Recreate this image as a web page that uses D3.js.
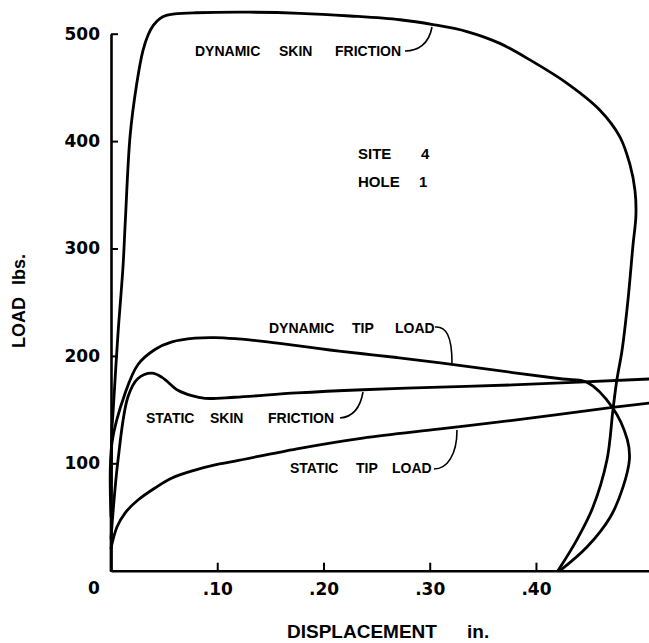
<!DOCTYPE html>
<html>
<head>
<meta charset="utf-8">
<script src="https://cdn.jsdelivr.net/npm/d3@7"></script>
<style>
  html, body { margin: 0; padding: 0; background: #fff; }
  svg { display: block; }
  text { fill: #000; }
</style>
</head>
<body>
<script>
// ---- data (x = displacement in., y = load lbs.) ----
const dynamicSkinFriction = [
  [0, 0], [0.0009, 131], [0.0019, 147], [0.0066, 221], [0.0113, 283], [0.0135, 326],
  [0.0180, 405], [0.0240, 452], [0.0300, 484], [0.0350, 499], [0.0400, 508], [0.0460, 514],
  [0.0520, 517], [0.0600, 518.5], [0.0800, 519.5], [0.1300, 520], [0.1780, 519], [0.2250, 516.5],
  [0.2720, 513], [0.3030, 508.5], [0.3350, 502], [0.3660, 491], [0.3970, 474], [0.4290, 454],
  [0.4600, 429], [0.4790, 404], [0.4885, 378], [0.4932, 354], [0.4941, 331], [0.4913, 303],
  [0.4866, 252], [0.4810, 205], [0.4762, 178], [0.4725, 150], [0.4668, 103], [0.4536, 59],
  [0.4386, 29], [0.4207, 0]
];
const dynamicTipLoad = [
  [0, 50], [0.0009, 119], [0.0132, 165], [0.0254, 192], [0.0414, 206], [0.0574, 213],
  [0.079, 216.5], [0.0979, 217], [0.1167, 216], [0.143, 213.5], [0.175, 209.5], [0.206, 205.5],
  [0.237, 202], [0.269, 198.5], [0.310, 193.5], [0.378, 184.5], [0.425, 178.5], [0.448, 175.5],
  [0.472, 152], [0.486, 122], [0.488, 104], [0.482, 78], [0.470, 50], [0.448, 22], [0.4226, 0]
];
const staticSkinFriction = [
  [0, 30], [0.0066, 103], [0.016, 162], [0.0254, 179], [0.0386, 184], [0.048, 180],
  [0.063, 168], [0.076, 163], [0.0885, 160.5], [0.1167, 161.5], [0.175, 165.5],
  [0.237, 168.5], [0.310, 171], [0.378, 173], [0.5064, 178.5]
];
const staticTipLoad = [
  [0, 21], [0.0056, 40.7], [0.0132, 53.7], [0.0254, 65.8], [0.0414, 77], [0.0574, 86.3],
  [0.079, 93.7], [0.0979, 98.6], [0.1167, 102], [0.175, 113.5], [0.237, 123.5],
  [0.310, 132], [0.378, 140], [0.472, 152], [0.5064, 156]
];
const xTickValues = [0.1, 0.2, 0.3, 0.4];
const xTickLabels = [".10", ".20", ".30", ".40"];
const yTickValues = [100, 200, 300, 400, 500];
const yTickLabels = ["100", "200", "300", "400", "500"];
const xMax = 0.5064;

// ---- drawing ----
const W = 649, H = 643;
const svg = d3.select("body").append("svg").attr("width", W).attr("height", H);

const x = d3.scaleLinear().domain([0, xMax]).range([111, 649]);
const y = d3.scaleLinear().domain([0, 500]).range([570.7, 33.7]);

const tickFont = "'DejaVu Sans', sans-serif";
const labFont = "'Liberation Sans', Arial, sans-serif";

// x axis
const xAxis = d3.axisBottom(x)
  .tickValues(xTickValues)
  .tickFormat((d, i) => xTickLabels[i])
  .tickSizeInner(-8).tickSizeOuter(0).tickPadding(12);
const gx = svg.append("g").attr("transform", `translate(0,${y(0)})`).call(xAxis);
gx.select(".domain").attr("stroke", "#000").attr("stroke-width", 2.6);
gx.selectAll(".tick line").attr("stroke", "#000").attr("stroke-width", 2);
gx.selectAll(".tick text").attr("font-family", tickFont).attr("font-weight", "bold")
  .attr("font-size", 17).attr("fill", "#000").attr("dy", "0.71em");

// y axis
const yAxis = d3.axisLeft(y)
  .tickValues(yTickValues)
  .tickFormat((d, i) => yTickLabels[i])
  .tickSizeInner(-7).tickSizeOuter(0).tickPadding(11);
const gy = svg.append("g").attr("transform", `translate(${x(0)},0)`).call(yAxis);
gy.select(".domain").attr("stroke", "#000").attr("stroke-width", 2.6);
gy.selectAll(".tick line").attr("stroke", "#000").attr("stroke-width", 2);
gy.selectAll(".tick text").attr("font-family", tickFont).attr("font-weight", "bold")
  .attr("font-size", 17).attr("fill", "#000");

// origin label
svg.append("text").attr("x", x(0) - 17).attr("y", y(0) + 17)
  .attr("text-anchor", "middle").attr("dominant-baseline", "central")
  .attr("font-family", tickFont).attr("font-weight", "bold").attr("font-size", 17)
  .text("0");

// curves
const line = d3.line().x(d => x(d[0])).y(d => y(d[1])).curve(d3.curveCatmullRom.alpha(0.5));
[dynamicSkinFriction, dynamicTipLoad, staticSkinFriction, staticTipLoad].forEach(s => {
  svg.append("path").datum(s).attr("d", line)
    .attr("fill", "none").attr("stroke", "#000").attr("stroke-width", 2.8)
    .attr("stroke-linejoin", "round").attr("stroke-linecap", "round");
});

// annotations
function label(words, xs, yb, size) {
  words.forEach((w, i) => {
    svg.append("text").attr("x", xs[i]).attr("y", yb)
      .attr("font-family", labFont).attr("font-weight", "bold").attr("font-size", size || 14)
      .text(w);
  });
}
function leader(d) {
  svg.append("path").attr("d", d).attr("fill", "none").attr("stroke", "#000").attr("stroke-width", 1.6);
}
label(["DYNAMIC", "SKIN", "FRICTION"], [195, 279, 335], 56);
leader("M405,51 C418,51 429,44 432,27");
label(["SITE", "4"], [358, 421], 159, 15);
label(["HOLE", "1"], [358, 419], 187, 15);
label(["DYNAMIC", "TIP", "LOAD"], [269, 352, 395], 333);
leader("M435,327 C446,326 452,336 452,363");
label(["STATIC", "SKIN", "FRICTION"], [146, 210, 268], 423);
leader("M340,418 C352,417 360,410 363,392");
label(["STATIC", "TIP", "LOAD"], [290, 356, 392], 473);
leader("M434,469 C447,469 457,455 457,430");

// axis titles
svg.append("text").attr("x", 287).attr("y", 638)
  .attr("font-family", labFont).attr("font-weight", "bold").attr("font-size", 19).text("DISPLACEMENT");
svg.append("text").attr("x", 467).attr("y", 638)
  .attr("font-family", labFont).attr("font-weight", "bold").attr("font-size", 19).text("in.");
svg.append("text").attr("transform", "translate(25,348) rotate(-90)")
  .attr("font-family", labFont).attr("font-weight", "bold").attr("font-size", 18).text("LOAD");
svg.append("text").attr("transform", "translate(25,285) rotate(-90)")
  .attr("font-family", labFont).attr("font-weight", "bold").attr("font-size", 18).text("lbs.");
</script>
</body>
</html>
